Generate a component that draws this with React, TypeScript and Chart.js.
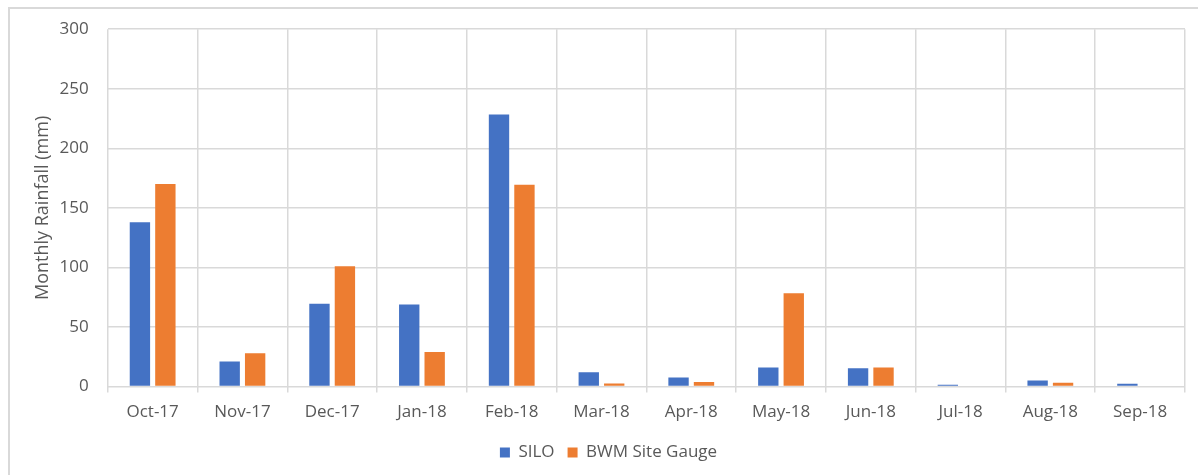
import React, { useEffect, useRef } from "react";
import { Chart, registerables } from "chart.js";

Chart.register(...registerables);

const months = [
  "Oct-17", "Nov-17", "Dec-17", "Jan-18", "Feb-18", "Mar-18",
  "Apr-18", "May-18", "Jun-18", "Jul-18", "Aug-18", "Sep-18",
];
const siloRain = [138, 21, 69.5, 69, 228.5, 12, 7.7, 16, 15.5, 1.5, 5.2, 2.3];
const siteGaugeRain = [170, 28, 101, 29, 169.5, 2.6, 3.8, 78.4, 16, 0, 3.2, 0];
const yTicks = [0, 50, 100, 150, 200, 250, 300];

const GRID = "#d9d9d9";
const TEXT = "#595959";
const FONT = "'Open Sans', sans-serif";

export default function App() {
  const ref = useRef<HTMLCanvasElement | null>(null);

  useEffect(() => {
    if (!ref.current) return;
    const chart = new Chart(ref.current, {
      type: "bar",
      data: {
        labels: months,
        datasets: [
          { label: "SILO", data: siloRain, backgroundColor: "#4472C4" },
          { label: "BWM Site Gauge", data: siteGaugeRain, backgroundColor: "#ED7D31" },
        ],
      },
      options: {
        animation: false,
        responsive: false,
        maintainAspectRatio: false,
        datasets: { bar: { categoryPercentage: 0.567, barPercentage: 0.8 } },
        layout: { padding: { left: 32, right: 13, top: 18, bottom: 4 } },
        plugins: {
          tooltip: { enabled: false },
          legend: {
            position: "bottom",
            labels: {
              boxWidth: 10,
              boxHeight: 10,
              padding: 13,
              color: TEXT,
              font: { family: FONT, size: 17 },
            },
          },
        },
        scales: {
          x: {
            grid: { color: GRID, lineWidth: 1.5, offset: true, tickLength: 6, drawTicks: true },
            border: { display: false },
            ticks: { color: TEXT, font: { family: FONT, size: 17 }, padding: 9, maxRotation: 0 },
          },
          y: {
            min: 0,
            max: 300,
            afterBuildTicks: (axis: any) => {
              axis.ticks = yTicks.map((v) => ({ value: v }));
            },
            grid: { color: GRID, lineWidth: 1.5, drawTicks: false },
            border: { display: false },
            ticks: { color: TEXT, font: { family: FONT, size: 17 }, padding: 19 },
            title: {
              display: true,
              text: "Monthly Rainfall (mm)",
              color: TEXT,
              font: { family: FONT, size: 18 },
              padding: { top: 0, bottom: -13 },
            },
          },
        },
      },
    });
    return () => chart.destroy();
  }, []);

  return (
    <>
      <div
        style={{
          position: "fixed",
          left: 8,
          top: 7,
          right: 0,
          bottom: 0,
          borderLeft: `2px solid ${GRID}`,
          borderTop: `2px solid ${GRID}`,
        }}
      />
      <canvas
        ref={ref}
        width={1198}
        height={475}
        style={{ position: "fixed", left: 0, top: 0, width: 1198, height: 475 }}
      />
    </>
  );
}
